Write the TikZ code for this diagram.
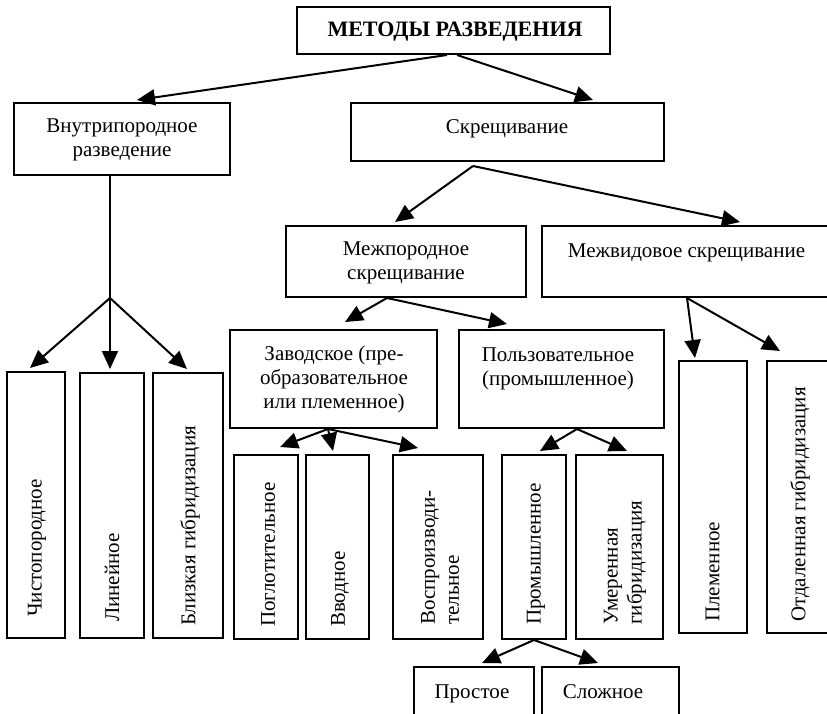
\documentclass[tikz,border=0pt]{standalone}
\usepackage{fontspec}
\setmainfont{Liberation Serif}
\usetikzlibrary{arrows.meta}

\begin{document}
\begin{tikzpicture}[x=1pt,y=-1pt,
  box/.style={draw, line width=2pt, inner sep=0pt},
  txt/.style={inner sep=0pt, font=\fontsize{21}{24}\selectfont, align=center},
  vtxt/.style={inner sep=0pt, font=\fontsize{21}{24}\selectfont, align=left, rotate=90, anchor=west},
  link/.style={line width=2pt},
  arr/.style={line width=2pt, -{Triangle[length=18pt,width=16pt]}}]

\useasboundingbox (0,0) rectangle (827,714);
\clip (0,0) rectangle (827,714);

% boxes
\node[box, minimum width=313, minimum height=47]  (top)     at (453.5,30.5) {};
\node[box, minimum width=216, minimum height=72]  (vnutr)   at (122,139) {};
\node[box, minimum width=313, minimum height=58]  (skr)     at (507.5,132) {};
\node[box, minimum width=240, minimum height=71]  (mezhpor) at (406,261.5) {};
\node[box, minimum width=298, minimum height=71]  (mezhvid) at (691,261.5) {};
\node[box, minimum width=207, minimum height=98]  (zavod)   at (333.5,379) {};
\node[box, minimum width=205, minimum height=98]  (polz)    at (561.5,379) {};
\node[box, minimum width=58,  minimum height=266] (chist)   at (36,505) {};
\node[box, minimum width=64,  minimum height=265] (lin)     at (112,505.5) {};
\node[box, minimum width=70,  minimum height=265] (blizk)   at (188,505.5) {};
\node[box, minimum width=64,  minimum height=184] (poglot)  at (266,547) {};
\node[box, minimum width=63,  minimum height=184] (vvod)    at (337.5,547) {};
\node[box, minimum width=90,  minimum height=184] (vospr)   at (438,547) {};
\node[box, minimum width=64,  minimum height=184] (prom)    at (534,547) {};
\node[box, minimum width=87,  minimum height=184] (umer)    at (619.5,547) {};
\node[box, minimum width=68,  minimum height=272] (plem)    at (713,497) {};
\node[box, minimum width=73,  minimum height=272] (otdal)   at (803.5,497) {};
\node[box, minimum width=120, minimum height=73]  (prost)   at (474,703.5) {};
\node[box, minimum width=137, minimum height=73]  (slozh)   at (610.5,703.5) {};

% horizontal labels
\node[txt, anchor=base, font=\fontsize{22}{24}\selectfont\bfseries] (top-t) at (455,37) {МЕТОДЫ РАЗВЕДЕНИЯ};
\node[txt, anchor=base] (vnutr-t)   at (122,157) {Внутрипородное\\разведение};
\node[txt, anchor=base] (skr-t)     at (507,134) {Скрещивание};
\node[txt, anchor=base] (mezhpor-t) at (406,279) {Межпородное\\скрещивание};
\node[txt, anchor=base] (mezhvid-t) at (686.5,258) {Межвидовое скрещивание};
\node[txt, anchor=base] (zavod-t)   at (334,408) {Заводское (пре-\\образовательное\\или племенное)};
\node[txt, anchor=base] (polz-t)    at (558,385) {Пользовательное\\(промышленное)};
\node[txt, anchor=base] (prost-t)   at (472,698) {Простое};
\node[txt, anchor=base] (slozh-t)   at (603,698) {Сложное};

% vertical labels
\node[vtxt] (chist-t)  at (37,617)    {Чистопородное};
\node[vtxt] (lin-t)    at (112,622)   {Линейное};
\node[vtxt] (blizk-t)  at (190,626)   {Близкая гибридизация};
\node[vtxt] (poglot-t) at (268,627)   {Поглотительное};
\node[vtxt] (vvod-t)   at (340,627)   {Вводное};
\node[vtxt] (vospr-t)  at (440,625)   {Воспроизводи-\\тельное};
\node[vtxt] (prom-t)   at (536,625)   {Промышленное};
\node[vtxt] (umer-t)   at (625,625)   {Умеренная\\гибридизация};
\node[vtxt] (plem-t)   at (712.5,622) {Племенное};
\node[vtxt] (otdal-t)  at (800,622)   {Отдаленная гибридизация};

% branch points
\coordinate (vj) at (110,298);
\coordinate (sj) at (473,166);
\coordinate (mj) at ([xshift=-19pt]mezhpor.south);
\coordinate (wj) at ([xshift=-4pt]mezhvid.south);
\coordinate (zj) at ([xshift=-5.5pt]zavod.south);
\coordinate (pj) at ([xshift=15.5pt]polz.south);
\coordinate (rj) at (prom.south);

% connectors
\draw[arr] ([xshift=-6.5pt]top.south) -- ([xshift=15pt,yshift=2pt]vnutr.north);
\draw[arr] ([xshift=3.5pt]top.south) -- ([xshift=85.5pt,yshift=2pt]skr.north);

\draw[link] (vnutr.south -| vj) -- (vj);
\draw[arr] (vj) -- ([xshift=-6pt,yshift=3pt]chist.north);
\draw[arr] (vj) -- ([xshift=-2pt,yshift=3pt]lin.north);
\draw[arr] (vj) -- ([xshift=-1pt,yshift=3pt]blizk.north);

\draw[arr] (sj) -- ([xshift=-11pt,yshift=3pt]mezhpor.north);
\draw[arr] (sj) -- ([xshift=49pt,yshift=3pt]mezhvid.north);

\draw[arr] (mj) -- ([xshift=11.5pt,yshift=7pt]zavod.north);
\draw[arr] (mj) -- ([xshift=-54.5pt,yshift=5pt]polz.north);

\draw[arr] (wj) -- ([xshift=-18pt,yshift=2pt]plem.north);
\draw[arr] (wj) -- ([xshift=-23.5pt,yshift=9pt]otdal.north);

\draw[arr] (zj) -- ([xshift=14pt,yshift=7pt]poglot.north);
\draw[arr] (zj) -- ([xshift=-4.5pt,yshift=3pt]vvod.north);
\draw[arr] (zj) -- ([xshift=-20pt,yshift=6pt]vospr.north);

\draw[arr] (pj) -- ([xshift=6pt,yshift=3pt]prom.north);
\draw[arr] (pj) -- ([xshift=7.5pt,yshift=3pt]umer.north);

\draw[arr] (rj) -- ([xshift=8pt,yshift=3pt]prost.north);
\draw[arr] (rj) -- ([xshift=-12.5pt,yshift=3pt]slozh.north);

\end{tikzpicture}
\end{document}
